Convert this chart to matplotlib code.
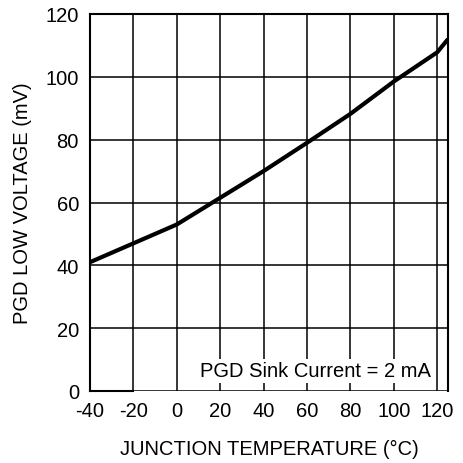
import matplotlib
matplotlib.use("Agg")
import matplotlib.pyplot as plt

plt.rcParams['font.family'] = ['Liberation Sans', 'DejaVu Sans']
plt.rcParams['axes.unicode_minus'] = False

# curve
temp_c = [-40, -20, 0, 20, 40, 60, 80, 100, 120, 125]
pgd_mv = [41, 47, 53, 61.5, 70, 79, 88.2, 98.5, 107.8, 112]

x_ticks = [-40, -20, 0, 20, 40, 60, 80, 100, 120]
y_ticks = [0, 20, 40, 60, 80, 100, 120]

fig = plt.figure(figsize=(4.63, 4.64), dpi=100)
ax = fig.add_axes([90 / 463, 1 - 392 / 464, 358 / 463, 377 / 464])

ax.plot(temp_c, pgd_mv, color='black', lw=3.0, solid_capstyle='butt', zorder=3)

ax.set_xlim(-40, 125)
ax.set_ylim(0, 120)
ax.set_xticks(x_ticks)
ax.set_yticks(y_ticks)
ax.tick_params(axis='x', length=0, labelsize=14.5, pad=7, colors='black')
ax.tick_params(axis='y', length=0, labelsize=14.5, pad=8, colors='black')
ax.grid(True, color='black', lw=1.1)
for s in ax.spines.values():
    s.set_linewidth(1.5)
ax.spines['bottom'].set_bounds(-40, -20)

ax.text(117.2, 6.4, 'PGD Sink Current = 2 mA', ha='right', va='center', fontsize=14.5,
        bbox=dict(facecolor='white', edgecolor='none', pad=2), zorder=4)

ax.set_xlabel('JUNCTION TEMPERATURE (°C)', fontsize=14.5, labelpad=14)
ax.set_ylabel('PGD LOW VOLTAGE (mV)', fontsize=14.5, labelpad=10)

fig.savefig('out.png', dpi=100)
